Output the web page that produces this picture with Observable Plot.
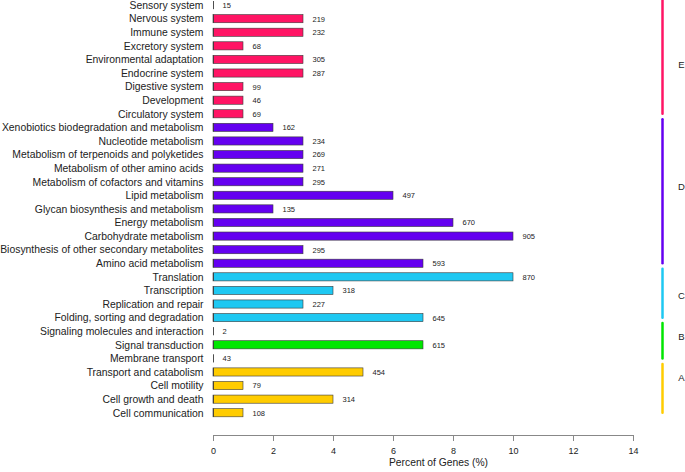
<!DOCTYPE html>
<html>
<head>
<meta charset="utf-8">
<script src="https://cdn.jsdelivr.net/npm/d3@7"></script>
<script src="https://cdn.jsdelivr.net/npm/@observablehq/plot@0.6"></script>
<style>
  html, body { margin: 0; padding: 0; background: #fff; }
  #chart svg { display: block; font-family: "Liberation Sans", Arial, Helvetica, sans-serif; }
</style>
</head>
<body>
<div id="chart"></div>
<script>
const categories = [
  "Sensory system", "Nervous system", "Immune system", "Excretory system",
  "Environmental adaptation", "Endocrine system", "Digestive system", "Development",
  "Circulatory system", "Xenobiotics biodegradation and metabolism", "Nucleotide metabolism",
  "Metabolism of terpenoids and polyketides", "Metabolism of other amino acids",
  "Metabolism of cofactors and vitamins", "Lipid metabolism", "Glycan biosynthesis and metabolism",
  "Energy metabolism", "Carbohydrate metabolism", "Biosynthesis of other secondary metabolites",
  "Amino acid metabolism", "Translation", "Transcription", "Replication and repair",
  "Folding, sorting and degradation", "Signaling molecules and interaction", "Signal transduction",
  "Membrane transport", "Transport and catabolism", "Cell motility", "Cell growth and death",
  "Cell communication"
];
const percents = [0, 3, 3, 1, 3, 3, 1, 1, 1, 2, 3, 3, 3, 3, 6, 2, 8, 10, 3, 7, 10, 4, 3, 7, 0, 7, 0, 5, 1, 4, 1];
const geneCounts = [15, 219, 232, 68, 305, 287, 99, 46, 69, 162, 234, 269, 271, 295, 497, 135, 670, 905, 295, 593, 870, 318, 227, 645, 2, 615, 43, 454, 79, 314, 108];
const groupOf = ["E","E","E","E","E","E","E","E","E",
  "D","D","D","D","D","D","D","D","D","D","D",
  "C","C","C","C", "B","B","B", "A","A","A","A"];
const groups = ["A", "B", "C", "D", "E"];
const groupColors = ["#ffcc00", "#00e600", "#1ec8f2", "#6400f0", "#ff1464"];
const groupLabelRows = ["Transport and catabolism", "Signaling molecules and interaction", "Transcription", "Metabolism of cofactors and vitamins", "Environmental adaptation"];
const xTicks = [0, 2, 4, 6, 8, 10, 12, 14];

const rows = categories.map((c, i) => ({cat: c, pct: percents[i], count: geneCounts[i], group: groupOf[i]}));
const spans = groups.map((g, k) => {
  const members = rows.filter(r => r.group === g);
  return {group: g, top: members[0].cat, bottom: members[members.length - 1].cat, labelAt: groupLabelRows[k]};
});

const chart = Plot.plot({
  width: 685,
  height: 472,
  marginLeft: 213,
  marginRight: 52,
  marginTop: 1,
  marginBottom: 37,
  style: {fontFamily: "'Liberation Sans', Arial, Helvetica, sans-serif", background: "#fff", color: "#222"},
  x: {domain: [0, 14], ticks: xTicks},
  y: {domain: categories, range: [1, 416.8], paddingInner: 0.4, paddingOuter: 0, align: 0.5, round: false},
  color: {domain: groups, range: groupColors},
  marks: [
    Plot.barX(rows, {x: "pct", y: "cat", fill: "group", stroke: "#3a3a3a", strokeWidth: 0.6}),
    Plot.ruleX(rows, {x: 0, y1: "cat", y2: "cat", stroke: "#3a3a3a", strokeWidth: 0.9}),
    Plot.text(rows, {x: "pct", y: "cat", text: d => String(d.count), textAnchor: "start", dx: 9, fontSize: 7.5, fill: "#222"}),
    Plot.ruleX(spans, {x: 14, y1: "top", y2: "bottom", stroke: "group", strokeWidth: 2.5, strokeLinecap: "round", dx: 29, dy: -4}),
    Plot.text(spans, {x: 14, y: "labelAt", text: "group", dx: 48, dy: 5, fontSize: 9.5, fill: "#222"}),
    Plot.axisY({tickSize: 0, tickPadding: 10, fontSize: 10.4, label: null}),
    Plot.axisX({ticks: xTicks, tickSize: 6, tickPadding: 6, fontSize: 9, stroke: "#888", label: null}),
    Plot.frame({anchor: "bottom", stroke: "#888"}),
    Plot.text(["Percent of Genes (%)"], {frameAnchor: "bottom", dx: 15, dy: 30, fontSize: 10.3, fill: "#222"})
  ]
});
document.getElementById("chart").appendChild(chart);
</script>
</body>
</html>
